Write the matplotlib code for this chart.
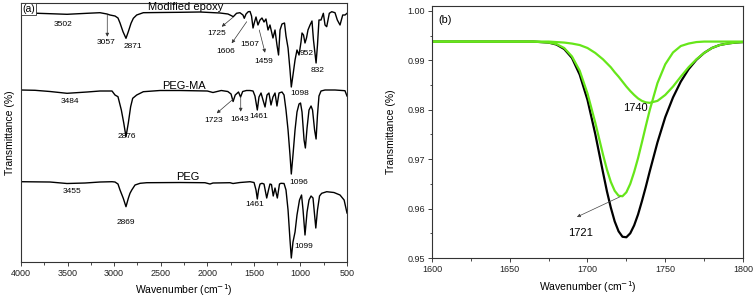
import matplotlib.pyplot as plt
from matplotlib.ticker import MultipleLocator, FormatStrFormatter

plt.rcParams['font.family'] = ['Liberation Sans', 'DejaVu Sans']

# (a) FTIR spectra, stacked, transmittance in arbitrary offset units
epoxy_wn = [4000, 3850, 3689, 3506, 3291, 3152, 3077, 3045, 2991, 2959, 2937, 2905, 2873, 2848,
            2819, 2794, 2758, 2687, 2508, 2293, 2078, 1864, 1778, 1745, 1721, 1686, 1650, 1617,
            1603, 1584, 1560, 1541, 1525, 1509, 1493, 1477, 1456, 1434, 1413, 1391, 1370, 1348,
            1327, 1295, 1273, 1252, 1235, 1219, 1198, 1171, 1155, 1133, 1112, 1098, 1080, 1058,
            1037, 1015, 994, 983, 967, 951, 935, 919, 897, 876, 860, 832, 817, 801, 779, 754,
            736, 718, 690, 664, 629, 604, 575, 546, 521, 500]
epoxy_t = [249.3, 248.8, 248.3, 247.7, 248.7, 249.3, 248, 247, 246, 244, 239, 230.3, 223.7, 230.3,
           238.7, 243.7, 247, 249.3, 249.5, 249.7, 250, 249, 248, 246.5, 245.3, 248.7, 249.3, 247,
           243.7, 248, 250.3, 250.5, 246, 234, 240, 245, 237, 242, 244, 240, 243, 232,
           237, 224, 232, 217, 207, 232, 238, 239, 226, 214, 192, 175, 187, 202,
           212, 207, 220, 229, 227, 219, 224, 232, 237, 241, 222, 199, 217, 242, 242, 248.7,
           237, 235.3, 248.7, 250.3, 249.3, 242, 237, 247, 247, 248.7]

pegma_wn = [4000, 3850, 3689, 3506, 3291, 3152, 3023, 2991, 2959, 2923, 2897, 2873, 2848, 2823,
            2801, 2758, 2687, 2508, 2293, 2000, 1939, 1850, 1780, 1745, 1723, 1700, 1665, 1643,
            1620, 1580, 1541, 1509, 1488, 1463, 1445, 1423, 1402, 1380, 1359, 1338, 1316, 1295,
            1273, 1252, 1230, 1198, 1176, 1155, 1133, 1112, 1098, 1080, 1058, 1037, 1015, 999,
            983, 961, 947, 929, 908, 886, 870, 848, 832, 817, 801, 779, 736, 629, 522, 500]
pegma_t = [172, 171.7, 170.5, 168.7, 170, 171, 171, 167, 165.3, 152, 139, 125.3, 139, 155.3,
           163.7, 167, 170.3, 171.5, 171.5, 171, 169.5, 171.5, 170.5, 168, 160.5, 167, 170, 165,
           170.5, 171.5, 171.5, 171, 166, 152, 165, 169, 162, 155, 167, 169, 157, 165,
           169, 156, 169, 170, 167, 152, 132, 107, 88, 107, 132, 150, 158, 159,
           150, 122, 114, 134, 152, 156, 152, 132, 123, 147, 166, 171, 172, 172, 171.3, 166]

peg_wn = [4000, 3689, 3506, 3313, 3152, 3023, 2991, 2959, 2937, 2902, 2873, 2848, 2830, 2811,
          2776, 2722, 2650, 2293, 2025, 1971, 1939, 1756, 1724, 1649, 1541, 1498, 1477, 1463,
          1450, 1434, 1413, 1391, 1362, 1343, 1327, 1311, 1292, 1273, 1248, 1225, 1209, 1176,
          1155, 1133, 1112, 1098, 1080, 1058, 1037, 1010, 988, 972, 951, 929, 908, 886,
          865, 848, 835, 817, 795, 772, 718, 640, 575, 531, 500]
peg_t = [80.3, 80, 78.5, 79, 80, 80.3, 80, 78, 72, 63.7, 55.3, 63.7, 68.7, 72,
         77, 78.7, 79.3, 79.5, 79.3, 78, 79, 79.3, 78.5, 79.5, 80.3, 79.5, 72, 63,
         72, 78, 78.7, 78, 64, 72, 78, 77.5, 66, 74, 64, 78, 78.7, 78.5,
         72, 52, 22, 4, 20, 30, 47, 62, 67, 52, 27, 50, 62, 66,
         64, 47, 34, 52, 66, 68.7, 70.3, 69.5, 67, 62, 49]

# (b) C=O band, measured and two fitted components
fit_wn = ([1600, 1605, 1610, 1615, 1620, 1625, 1630, 1635, 1640, 1645, 1650, 1655, 1660, 1665,
           1670, 1675, 1680, 1685, 1690, 1695, 1700, 1705]
          + [1710, 1712.5, 1715, 1717.5, 1720, 1722.5, 1725, 1727.5, 1730, 1732.5, 1735, 1737.5]
          + [1740, 1745, 1750, 1755, 1760, 1765, 1770, 1775, 1780, 1785, 1790, 1795, 1800])
band_t = ([0.9938] * 14
          + [0.9937, 0.9936, 0.9932, 0.9923, 0.9905, 0.9871, 0.9820, 0.9751]
          + [0.9673, 0.9635, 0.9602, 0.9574, 0.9554, 0.9543, 0.9542, 0.9550, 0.9566, 0.9588,
             0.9615, 0.9644]
          + [0.9675, 0.9734, 0.9785, 0.9825, 0.9857, 0.9882, 0.9901, 0.9915, 0.9925, 0.9931,
             0.9934, 0.9936, 0.9937])
peak1721_t = ([0.9938] * 14
              + [0.9937, 0.9936, 0.9933, 0.9925, 0.9908, 0.9879, 0.9833, 0.9774]
              + [0.9709, 0.9679, 0.9654, 0.9636, 0.9626, 0.9625, 0.9633, 0.9650, 0.9674, 0.9702,
                 0.9734, 0.9767]
              + [0.9799, 0.9854, 0.9892, 0.9916, 0.9929, 0.9934, 0.9937, 0.9938, 0.9938, 0.9938,
                 0.9938, 0.9938, 0.9938])
peak1740_t = ([0.9938] * 16
              + [0.9937, 0.9936, 0.9934, 0.9931, 0.9925, 0.9915]
              + [0.9902, 0.9894, 0.9886, 0.9876, 0.9867, 0.9857, 0.9847, 0.9838, 0.9830, 0.9823,
                 0.9818, 0.9815]
              + [0.9814, 0.9818, 0.9830, 0.9847, 0.9867, 0.9886, 0.9902, 0.9915, 0.9925, 0.9931,
                 0.9934, 0.9936, 0.9937])

green = '#66e61a'
spine = '#333333'

fig = plt.figure(figsize=(7.56, 2.97), dpi=100)
ax1 = fig.add_axes([0.0278, 0.1178, 0.4312, 0.8721])
ax2 = fig.add_axes([0.5714, 0.1313, 0.4114, 0.8485])

for ax in (ax1, ax2):
    for s in ax.spines.values():
        s.set_color(spine)
        s.set_linewidth(0.8)
    ax.tick_params(labelsize=6.5, length=3, width=0.6, pad=2, colors='#222222')
    ax.tick_params(which='minor', length=1.8, width=0.5)

# ---- panel (a)
ax1.plot(epoxy_wn, epoxy_t, color='k', lw=1.0)
ax1.plot(pegma_wn, pegma_t, color='k', lw=1.0)
ax1.plot(peg_wn, peg_t, color='k', lw=1.0)
ax1.set_xlim(4000, 500)
ax1.set_ylim(0, 259)
ax1.xaxis.set_major_locator(MultipleLocator(500))
ax1.xaxis.set_minor_locator(MultipleLocator(250))
ax1.set_yticks([])
ax1.set_xlabel('Wavenumber (cm$^{-1}$)', fontsize=7.5, labelpad=3)
ax1.set_ylabel('Transmittance (%)', fontsize=7.5)
ax1.yaxis.set_label_coords(-0.018, 0.5)
ax1.text(0.004, 0.997, '(a)', transform=ax1.transAxes, fontsize=7.5, ha='left', va='top',
         bbox=dict(boxstyle='square,pad=0.1', fc='white', ec=spine, lw=0.6))

ax1.text(2229, 255, 'Modified epoxy', fontsize=8, ha='center', va='center')
ax1.text(2250, 176, 'PEG-MA', fontsize=8, ha='center', va='center')
ax1.text(2204, 85.3, 'PEG', fontsize=8, ha='center', va='center')

peak_labels = [('3502', 3554, 238), ('3057', 3090, 219.3), ('2871', 2803, 216),
               ('1725', 1899, 228.7), ('1606', 1801, 210.3), ('1507', 1541, 218),
               ('1459', 1389, 200.3), ('952', 933, 208.7), ('832', 817, 192),
               ('1098', 1005, 168.7),
               ('3484', 3474, 160.3), ('2876', 2865, 126), ('1723', 1931, 141.3),
               ('1643', 1657, 142.7), ('1461', 1447, 146), ('1096', 1015, 79.3),
               ('3455', 3447, 70.3), ('2869', 2870, 39.7), ('1461', 1496, 58),
               ('1099', 960, 15.3)]
for s, x, y in peak_labels:
    ax1.text(x, y, s, fontsize=6, ha='center', va='center')

arrows = [((3074, 247), (3074, 225.3)), ((1724, 244.7), (1845, 235.3)),
          ((1577, 240.3), (1738, 218.7)), ((1442, 232), (1380, 209.3)),
          ((1721, 163), (1899, 148.7)), ((1641, 165.3), (1641, 150.3))]
for tail, head in arrows:
    ax1.annotate('', xy=head, xytext=tail,
                 arrowprops=dict(arrowstyle='-|>', lw=0.5, color='#333333',
                                 mutation_scale=5, shrinkA=0, shrinkB=0))

# ---- panel (b)
ax2.plot(fit_wn, band_t, color='k', lw=1.6)
ax2.plot(fit_wn, peak1721_t, color=green, lw=1.6)
ax2.plot(fit_wn, peak1740_t, color=green, lw=1.6)
ax2.set_xlim(1600, 1800)
ax2.set_ylim(0.95, 1.001)
ax2.xaxis.set_major_locator(MultipleLocator(50))
ax2.xaxis.set_minor_locator(MultipleLocator(25))
ax2.yaxis.set_major_locator(MultipleLocator(0.01))
ax2.yaxis.set_minor_locator(MultipleLocator(0.005))
ax2.yaxis.set_major_formatter(FormatStrFormatter('%.2f'))
ax2.set_xlabel('Wavenumber (cm$^{-1}$)', fontsize=7.5, labelpad=4)
ax2.set_ylabel('Transmittance (%)', fontsize=7.5, labelpad=8)
ax2.text(0.02, 0.965, '(b)', transform=ax2.transAxes, fontsize=7.8, ha='left', va='top')

ax2.text(1738.5, 0.9804, '1740', fontsize=8, ha='right', va='center')
ax2.text(1695.8, 0.9551, '1721', fontsize=8, ha='center', va='center')
ax2.annotate('', xy=(1693.2, 0.9583), xytext=(1721, 0.9624),
             arrowprops=dict(arrowstyle='-|>', lw=0.5, color='#444444',
                             mutation_scale=5, shrinkA=0, shrinkB=0))

fig.savefig('out.png', dpi=100)
